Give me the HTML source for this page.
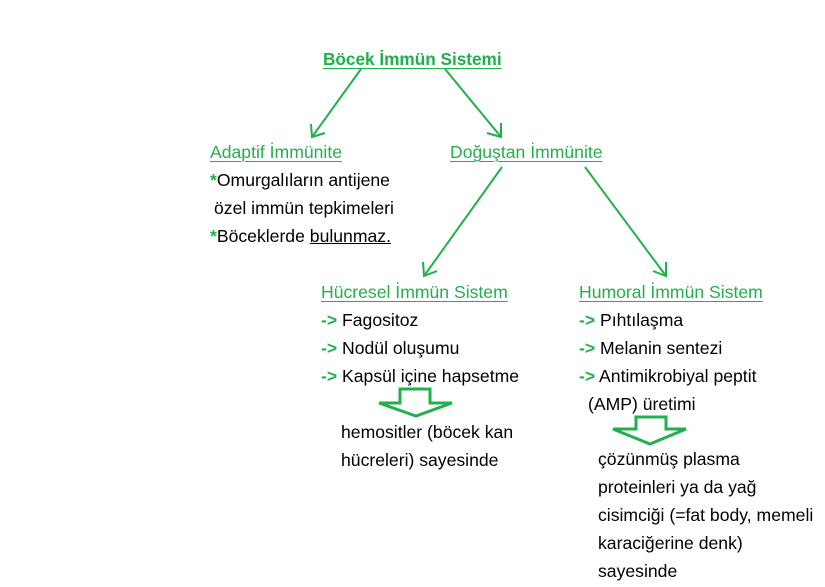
<!DOCTYPE html>
<html><head><meta charset="utf-8"><style>
body{margin:0;width:825px;height:587px;background:#fff;position:relative;overflow:hidden;font-family:"Liberation Sans",Arial,sans-serif;font-size:17.6px;color:#000}
.t{position:absolute;line-height:22px;white-space:nowrap}
.g{color:#22b04c;text-decoration:underline;text-decoration-thickness:1px;text-underline-offset:3px}
.s{color:#22b04c;font-weight:bold}
svg{position:absolute;left:0;top:0}
</style></head><body>
<svg width="825" height="587" fill="none" stroke="#22b04c" stroke-width="2">
<line x1="361" y1="69" x2="312" y2="137"/><polyline points="311,124 312,137 325,133"/>
<line x1="445" y1="69" x2="501" y2="137"/><polyline points="487,133 501,137 501,123"/>
<line x1="502" y1="167" x2="424" y2="276"/><polyline points="423,262 424,276 437,271"/>
<line x1="585" y1="167" x2="666" y2="276"/><polyline points="653,271 666,276 666,262"/>
<polygon stroke-width="3" points="400,389 430,389 430,403 452,403 416,416 379,403 400,403"/>
<polygon stroke-width="3" points="636,417 666,417 666,429 686,429 650,444 613,429 636,429"/>
</svg>
<div class="t g" style="left:323px;top:48px;font-weight:bold;font-size:17.2px">Böcek İmmün Sistemi</div>
<div class="t g" style="left:210px;top:141px">Adaptif İmmünite</div>
<div class="t g" style="left:450px;top:141px">Doğuştan İmmünite</div>
<div class="t" style="left:210px;top:169px"><span class="s">*</span>Omurgalıların antijene</div>
<div class="t" style="left:214px;top:197px">özel immün tepkimeleri</div>
<div class="t" style="left:210px;top:225px"><span class="s">*</span>Böceklerde <u>bulunmaz.</u></div>
<div class="t g" style="left:321px;top:281px">Hücresel İmmün Sistem</div>
<div class="t" style="left:321px;top:309px"><span class="s">-&gt;</span> Fagositoz</div>
<div class="t" style="left:321px;top:337px"><span class="s">-&gt;</span> Nodül oluşumu</div>
<div class="t" style="left:321px;top:365px"><span class="s">-&gt;</span> Kapsül içine hapsetme</div>
<div class="t" style="left:341px;top:421px">hemositler (böcek kan</div>
<div class="t" style="left:341px;top:449px">hücreleri) sayesinde</div>
<div class="t g" style="left:579px;top:281px">Humoral İmmün Sistem</div>
<div class="t" style="left:579px;top:309px"><span class="s">-&gt;</span> Pıhtılaşma</div>
<div class="t" style="left:579px;top:337px"><span class="s">-&gt;</span> Melanin sentezi</div>
<div class="t" style="left:579px;top:365px"><span class="s">-&gt;</span> Antimikrobiyal peptit</div>
<div class="t" style="left:588px;top:393px">(AMP) üretimi</div>
<div class="t" style="left:598px;top:448px">çözünmüş plasma</div>
<div class="t" style="left:598px;top:476px">proteinleri ya da yağ</div>
<div class="t" style="left:598px;top:504px">cisimciği (=fat body, memeli</div>
<div class="t" style="left:598px;top:532px">karaciğerine denk)</div>
<div class="t" style="left:598px;top:560px">sayesinde</div>
</body></html>
